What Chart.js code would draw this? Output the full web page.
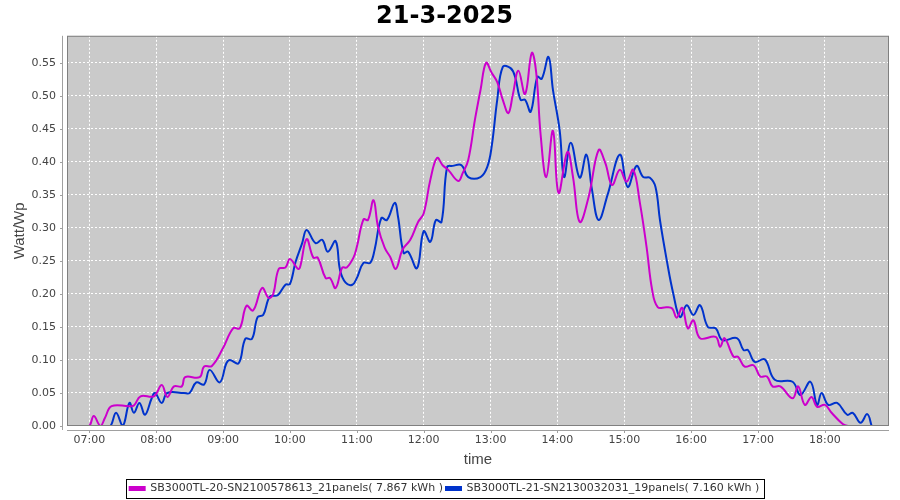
<!DOCTYPE html>
<html>
<head>
<meta charset="utf-8">
<script src="https://cdn.jsdelivr.net/npm/chart.js@4.4.1/dist/chart.umd.min.js"></script>
<style>
  body { margin: 0; background: #fff; }
  #wrap { width: 900px; height: 500px; }
</style>
</head>
<body>
<div id="wrap"><canvas id="chart"></canvas></div>
<script>
// SB3000TL-20 (magenta)
const magTimes = ["06:54","07:00","07:04","07:10","07:14","07:20","07:36","07:40","07:46","07:58",
  "08:05","08:10","08:16","08:23","08:26","08:39","08:43","08:50","09:00","09:09",
  "09:15","09:21","09:27","09:35","09:41","09:45","09:50","09:56","10:00","10:07",
  "10:09","10:15","10:21","10:25","10:32","10:36","10:41","10:47","10:51","10:57",
  "11:00","11:06","11:10","11:15","11:19","11:25","11:30","11:35","11:41","11:48",
  "11:55","12:00","12:06","12:12","12:17","12:22","12:31","12:35","12:40","12:46",
  "12:51","12:56","13:01","13:06","13:11","13:16","13:20","13:25","13:31","13:37",
  "13:41","13:45","13:50","13:56","14:01","14:09","14:14","14:20","14:28","14:37",
  "14:43","14:49","14:56","15:02","15:08","15:14","15:20","15:25","15:30","15:38",
  "15:43","15:47","15:52","15:57","16:02","16:08","16:22","16:26","16:30","16:38",
  "16:42","16:48","16:56","17:02","17:08","17:13","17:20","17:31","17:36","17:42",
  "17:48","17:53","18:00","18:06","18:16","18:21","18:27"];
const magValues = [0,0,0.015,0,0.012,0.03,0.03,0.031,0.045,0.045,
  0.062,0.044,0.06,0.06,0.074,0.074,0.09,0.091,0.118,0.148,
  0.148,0.182,0.175,0.209,0.194,0.2,0.238,0.24,0.253,0.238,
  0.24,0.283,0.255,0.255,0.224,0.224,0.209,0.24,0.24,0.255,
  0.271,0.313,0.312,0.342,0.302,0.27,0.256,0.238,0.267,0.282,
  0.309,0.322,0.373,0.406,0.395,0.388,0.371,0.383,0.403,0.464,
  0.509,0.55,0.535,0.521,0.494,0.474,0.502,0.538,0.503,0.565,
  0.535,0.44,0.377,0.447,0.353,0.415,0.377,0.309,0.347,0.418,
  0.398,0.365,0.388,0.37,0.388,0.338,0.271,0.206,0.18,0.18,
  0.178,0.164,0.179,0.148,0.16,0.133,0.135,0.12,0.133,0.105,
  0.105,0.09,0.092,0.075,0.075,0.06,0.06,0.042,0.06,0.032,
  0.044,0.029,0.032,0.02,0.003,0,0];

// SB3000TL-21 (blue)
const blueTimes = ["07:14","07:19","07:24","07:30","07:36","07:40","07:45","07:50","07:56","07:59",
  "08:05","08:10","08:25","08:30","08:36","08:43","08:48","08:57","09:03","09:06",
  "09:14","09:20","09:26","09:31","09:36","09:42","09:49","09:56","10:00","10:05",
  "10:11","10:15","10:23","10:29","10:34","10:41","10:45","10:50","10:56","11:00",
  "11:06","11:12","11:16","11:22","11:27","11:34","11:37","11:42","11:46","11:54",
  "12:00","12:06","12:11","12:16","12:21","12:26","12:34","12:40","12:51","12:57",
  "13:01","13:06","13:11","13:18","13:22","13:27","13:31","13:36","13:42","13:46",
  "13:52","13:56","14:02","14:06","14:12","14:20","14:26","14:31","14:37","14:45",
  "14:56","15:03","15:11","15:17","15:23","15:28","15:32","15:38","15:44","15:50",
  "15:56","16:02","16:08","16:15","16:22","16:28","16:41","16:47","16:51","16:57",
  "17:06","17:15","17:31","17:38","17:47","17:53","17:57","18:03","18:11","18:20",
  "18:25","18:32","18:38","18:42"];
const blueValues = [0,0,0.02,0,0.035,0.02,0.035,0.017,0.042,0.05,
  0.035,0.05,0.05,0.05,0.066,0.063,0.085,0.066,0.095,0.1,
  0.095,0.132,0.132,0.165,0.168,0.196,0.198,0.214,0.215,0.248,
  0.277,0.297,0.277,0.282,0.264,0.28,0.236,0.217,0.214,0.224,
  0.247,0.247,0.267,0.315,0.312,0.338,0.317,0.262,0.264,0.239,
  0.295,0.279,0.312,0.309,0.392,0.394,0.395,0.377,0.377,0.392,
  0.423,0.494,0.544,0.542,0.529,0.494,0.494,0.476,0.529,0.526,
  0.559,0.509,0.448,0.377,0.429,0.376,0.411,0.358,0.312,0.35,
  0.411,0.362,0.394,0.377,0.376,0.362,0.312,0.252,0.2,0.165,
  0.183,0.168,0.183,0.15,0.148,0.13,0.133,0.115,0.115,0.097,
  0.101,0.07,0.067,0.047,0.067,0.032,0.05,0.032,0.035,0.017,
  0.02,0.005,0.018,0];

const hourTicks = ["07:00","08:00","09:00","10:00","11:00","12:00","13:00","14:00","15:00","16:00","17:00","18:00"];
const yTicks = [0,0.05,0.10,0.15,0.20,0.25,0.30,0.35,0.40,0.45,0.50,0.55];

const toMin = (s) => { const p = s.split(":"); return (+p[0]) * 60 + (+p[1]); };
const pad2 = (n) => (n < 10 ? "0" : "") + n;
const toPoints = (times, vals) => times.map((t, i) => ({ x: toMin(t), y: vals[i] }));

Chart.defaults.font.family = "'DejaVu Sans', sans-serif";
Chart.defaults.color = "#444";

const plotFrame = {
  id: "plotFrame",
  beforeDraw(chart) {
    const { ctx, chartArea: a } = chart;
    ctx.save();
    ctx.fillStyle = "#cacaca";
    ctx.fillRect(a.left, a.top, a.right - a.left, a.bottom - a.top);
    ctx.restore();
  },
  afterDraw(chart) {
    const { ctx, chartArea: a, scales } = chart;
    ctx.save();
    ctx.strokeStyle = "#808080";
    ctx.lineWidth = 1;
    ctx.strokeRect(a.left + 0.5, a.top + 0.5, a.right - a.left - 1, a.bottom - a.top - 1);
    // offset axis lines, like the original renderer
    ctx.strokeStyle = "#a0a0a0";
    ctx.beginPath();
    ctx.moveTo(a.left - 4.5, a.top);
    ctx.lineTo(a.left - 4.5, a.bottom + 4);
    ctx.moveTo(a.left, a.bottom + 4.5);
    ctx.lineTo(a.right, a.bottom + 4.5);
    scales.x.ticks.forEach((t) => {
      const px = Math.round(scales.x.getPixelForValue(t.value)) + 0.5;
      ctx.moveTo(px, a.bottom + 4);
      ctx.lineTo(px, a.bottom + 7);
    });
    scales.y.ticks.forEach((t) => {
      const py = Math.round(scales.y.getPixelForValue(t.value)) + 0.5;
      ctx.moveTo(a.left - 4, py);
      ctx.lineTo(a.left - 7, py);
    });
    ctx.stroke();
    // legend frame
    const boxes = chart.legend.legendHitBoxes;
    if (boxes && boxes.length) {
      let l = Infinity, r = -Infinity, t = Infinity, b = -Infinity;
      boxes.forEach((h) => {
        l = Math.min(l, h.left); r = Math.max(r, h.left + h.width);
        t = Math.min(t, h.top); b = Math.max(b, h.top + h.height);
      });
      ctx.strokeStyle = "#000";
      ctx.strokeRect(Math.round(l - 4) + 0.5, Math.round(t - 4) + 0.5, Math.round(r - l + 8), Math.round(b - t + 8));
    }
    ctx.restore();
  }
};

new Chart(document.getElementById("chart"), {
  type: "line",
  data: {
    datasets: [
      {
        label: "SB3000TL-20-SN2100578613_21panels( 7.867 kWh )",
        data: toPoints(magTimes, magValues),
        borderColor: "#cc00cc",
        backgroundColor: "#cc00cc",
        borderWidth: 2,
        pointRadius: 0,
        tension: 0.4,
        fill: false
      },
      {
        label: "SB3000TL-21-SN2130032031_19panels( 7.160 kWh )",
        data: toPoints(blueTimes, blueValues),
        borderColor: "#0033cc",
        backgroundColor: "#0033cc",
        borderWidth: 2,
        pointRadius: 0,
        tension: 0.4,
        fill: false
      }
    ]
  },
  options: {
    responsive: true,
    maintainAspectRatio: false,
    animation: false,
    layout: { padding: { left: 0, right: 11, top: 0, bottom: -4 } },
    plugins: {
      title: {
        display: true,
        text: "21-3-2025",
        color: "#000",
        font: { size: 24, weight: "bold" },
        padding: { top: 2, bottom: 5 }
      },
      legend: {
        position: "bottom",
        labels: {
          color: "#333",
          font: { size: 11 },
          boxWidth: 15,
          boxHeight: 3,
          padding: 3
        }
      },
      tooltip: { enabled: false }
    },
    scales: {
      x: {
        type: "linear",
        min: 400,
        max: 1137.5,
        afterBuildTicks: (s) => { s.ticks = hourTicks.map((h) => ({ value: toMin(h) })); },
        ticks: {
          callback: (v) => pad2(Math.floor(v / 60)) + ":" + pad2(v % 60),
          font: { size: 11 },
          color: "#444",
          padding: 8,
          maxRotation: 0
        },
        grid: { color: "#ffffff", lineWidth: 1, drawTicks: false },
        border: { display: false, dash: [2, 2] },
        title: {
          display: true, text: "time", color: "#444",
          font: { size: 15, family: "'Liberation Sans', sans-serif" },
          padding: { top: 0, bottom: 11 }
        },
        afterFit: (s) => { s.height = 54; }
      },
      y: {
        min: 0,
        max: 0.591,
        afterBuildTicks: (s) => { s.ticks = yTicks.map((v) => ({ value: v })); },
        ticks: {
          callback: (v) => v.toFixed(2),
          font: { size: 11 },
          color: "#444",
          padding: 11
        },
        grid: { color: "#ffffff", lineWidth: 1, drawTicks: false },
        border: { display: false, dash: [2, 2] },
        title: {
          display: true, text: "Watt/Wp", color: "#444",
          font: { size: 15, family: "'Liberation Sans', sans-serif" },
          padding: { top: 11, bottom: 0 }
        },
        afterFit: (s) => { s.width = 67; }
      }
    }
  },
  plugins: [plotFrame]
});
</script>
</body>
</html>
